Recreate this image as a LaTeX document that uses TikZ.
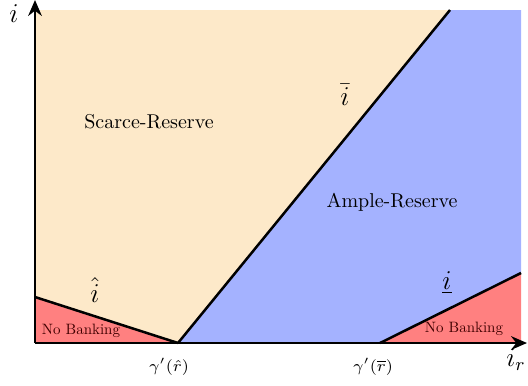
\documentclass[tikz,border=0pt]{standalone}
\usepackage{fontspec}
\usetikzlibrary{arrows.meta}
\newfontfamily\lmten{lmroman10-regular}[Extension=.otf]
\definecolor{scarcefill}{RGB}{253,233,201}
\definecolor{amplefill}{RGB}{164,178,255}
\definecolor{nobankfill}{RGB}{255,128,128}
\begin{document}
\begin{tikzpicture}[x=0.44pt, y=0.44pt,
    boundary/.style={black, line width=1.1pt},
    axis/.style={black, line width=1.1pt, -{Stealth[length=7pt, width=6pt]}},
    regionlabel/.style={font=\lmten\fontsize{8.8}{10}\selectfont},
    ticklabel/.style={font=\fontsize{6.8}{8}\selectfont, inner sep=1pt},
    curvelabel/.style={font=\large, inner sep=1pt},
    nobank/.style={font=\lmten\fontsize{6.6}{7.5}\selectfont, text=red!25!black}]
    \useasboundingbox (-35,-42) rectangle (493,343);

    % Corner points of the regions
    \coordinate (origin) at (0,0);
    \coordinate (hatleft) at (0,46);
    \coordinate (gammahat) at (143,0);
    \coordinate (bartop) at (415,333);
    \coordinate (gammabar) at (345,0);
    \coordinate (underright) at (486,70);

    % Scarce-reserve region (whole background)
    \fill[scarcefill] (origin) rectangle (486,333);

    % Ample-reserve region
    \fill[amplefill] (gammahat) -- (bartop) -- (486,333) -- (underright) -- (gammabar) -- cycle;

    % No banking regions
    \fill[nobankfill] (origin) -- (hatleft) -- (gammahat) -- cycle;
    \fill[nobankfill] (gammabar) -- (underright) -- (486,0) -- cycle;

    % Boundaries
    \draw[boundary] (hatleft) -- (gammahat);
    \draw[boundary] (gammahat) -- (bartop);
    \draw[boundary] (gammabar) -- (underright);

    % Axes
    \draw[axis] (origin) -- (0,343);
    \draw[axis] (origin) -- (492,0);
    \node[curvelabel] (ylab) at (-21,329) {$i$};
    \node[curvelabel] (xlab) at (481,-17) {$i_r$};

    % Region labels
    \node[regionlabel] (scarce) at (114,221) {Scarce-Reserve};
    \node[regionlabel] (ample) at (357,141) {Ample-Reserve};
    \node[nobank] (nbleft) at (46,12) {No Banking};
    \node[nobank] (nbright) at (429,14) {No Banking};

    % Boundary labels
    \node[curvelabel] (ibar) at (310,248) {$\bar{i}$};
    \node[curvelabel] (ihat) at (60,53) {$\hat{i}$};
    \node[curvelabel] (iunder) at (412,60) {$\underline{i}$};

    % Tick labels
    \node[ticklabel] (gh) at (134,-24) {$\gamma'(\hat{r})$};
    \node[ticklabel] (gb) at (338,-24) {$\gamma'(\overline{r})$};
\end{tikzpicture}
\end{document}
